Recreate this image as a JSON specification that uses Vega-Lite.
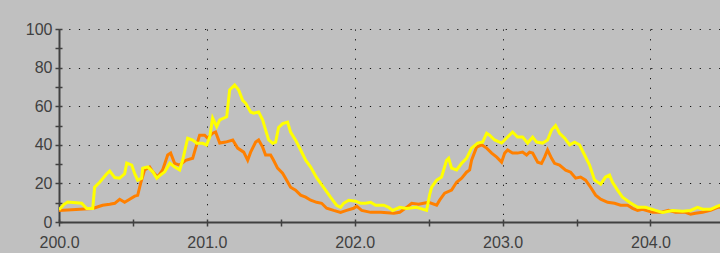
{
  "$schema": "https://vega.github.io/schema/vega-lite/v6.json",
  "autosize": "none",
  "width": 661,
  "height": 193,
  "padding": {"left": 59, "top": 29, "right": 0, "bottom": 31},
  "background": "#c0c0c0",
  "config": {
    "view": {"stroke": null},
    "axis": {
      "labelFont": "Liberation Sans",
      "labelFontSize": 16,
      "labelColor": "#404040",
      "domainColor": "#404040",
      "domainWidth": 2,
      "tickColor": "#404040",
      "tickWidth": 1.5,
      "gridColor": "#101010",
      "gridDash": [1.2, 8.5],
      "title": null
    }
  },
  "resolve": {"axis": {"x": "independent", "y": "independent"}},
  "datasets": {
    "yellow": [
      {"t":200.000,"v":6.4},{"t":200.032,"v":9},{"t":200.059,"v":10.4},{"t":200.153,"v":9.7},{"t":200.187,"v":7},{"t":200.228,"v":7},{"t":200.241,"v":18},{"t":200.275,"v":20.6},{"t":200.323,"v":25},{"t":200.343,"v":26.4},{"t":200.377,"v":23},{"t":200.410,"v":22.7},{"t":200.444,"v":25},{"t":200.458,"v":30.5},{"t":200.492,"v":29.5},{"t":200.512,"v":25},{"t":200.532,"v":21.7},{"t":200.559,"v":22.7},{"t":200.566,"v":27.9},{"t":200.600,"v":28.5},{"t":200.634,"v":26},{"t":200.661,"v":22.7},{"t":200.681,"v":24},{"t":200.715,"v":26},{"t":200.749,"v":30.5},{"t":200.782,"v":28.5},{"t":200.816,"v":27},{"t":200.836,"v":32},{"t":200.870,"v":43.4},{"t":200.904,"v":42.4},{"t":200.931,"v":40.8},{"t":200.971,"v":40.8},{"t":200.998,"v":39.9},{"t":201.019,"v":44},{"t":201.039,"v":53.8},{"t":201.066,"v":49.4},{"t":201.087,"v":52.9},{"t":201.134,"v":54.5},{"t":201.154,"v":68.4},{"t":201.188,"v":71},{"t":201.215,"v":68.4},{"t":201.242,"v":63},{"t":201.262,"v":61.6},{"t":201.296,"v":57},{"t":201.316,"v":56.4},{"t":201.350,"v":57},{"t":201.377,"v":53},{"t":201.397,"v":47.7},{"t":201.418,"v":42.5},{"t":201.445,"v":40.8},{"t":201.465,"v":41.4},{"t":201.485,"v":49},{"t":201.513,"v":51},{"t":201.546,"v":51.8},{"t":201.566,"v":46.6},{"t":201.600,"v":42.4},{"t":201.634,"v":37.3},{"t":201.668,"v":32},{"t":201.702,"v":28.5},{"t":201.742,"v":23},{"t":201.789,"v":18},{"t":201.836,"v":12.9},{"t":201.877,"v":8.7},{"t":201.904,"v":7.6},{"t":201.925,"v":9.7},{"t":201.959,"v":11.3},{"t":202.006,"v":10.8},{"t":202.040,"v":9.7},{"t":202.074,"v":9.7},{"t":202.108,"v":10.2},{"t":202.141,"v":8.7},{"t":202.196,"v":8.7},{"t":202.229,"v":7.6},{"t":202.256,"v":6},{"t":202.304,"v":7.6},{"t":202.351,"v":7},{"t":202.418,"v":7.6},{"t":202.486,"v":6},{"t":202.506,"v":14},{"t":202.520,"v":18},{"t":202.554,"v":21.7},{"t":202.587,"v":23.3},{"t":202.621,"v":32},{"t":202.635,"v":33},{"t":202.655,"v":27.9},{"t":202.689,"v":27},{"t":202.723,"v":30.4},{"t":202.756,"v":33},{"t":202.790,"v":38.3},{"t":202.831,"v":40.9},{"t":202.865,"v":41.4},{"t":202.892,"v":46},{"t":202.912,"v":45},{"t":202.946,"v":42.5},{"t":202.993,"v":40.9},{"t":203.027,"v":43.5},{"t":203.067,"v":46.6},{"t":203.101,"v":44},{"t":203.135,"v":44},{"t":203.169,"v":40.9},{"t":203.203,"v":44},{"t":203.230,"v":41.4},{"t":203.270,"v":40.9},{"t":203.304,"v":42.5},{"t":203.331,"v":47.7},{"t":203.358,"v":50},{"t":203.385,"v":46},{"t":203.419,"v":43.5},{"t":203.453,"v":40},{"t":203.487,"v":41.4},{"t":203.520,"v":40},{"t":203.554,"v":34.7},{"t":203.588,"v":29.5},{"t":203.622,"v":21.7},{"t":203.663,"v":19.6},{"t":203.696,"v":23.3},{"t":203.723,"v":24.3},{"t":203.743,"v":20.6},{"t":203.777,"v":16.5},{"t":203.811,"v":12.8},{"t":203.858,"v":10.2},{"t":203.913,"v":7.6},{"t":203.967,"v":7.6},{"t":204.034,"v":6},{"t":204.082,"v":5},{"t":204.149,"v":6},{"t":204.217,"v":5.6},{"t":204.271,"v":6},{"t":204.318,"v":7.6},{"t":204.352,"v":6.6},{"t":204.406,"v":6.6},{"t":204.454,"v":8.2},{"t":204.474,"v":8.7}
    ],
    "orange": [
      {"t":200.000,"v":6},{"t":200.228,"v":7},{"t":200.295,"v":8.7},{"t":200.343,"v":9.2},{"t":200.377,"v":9.7},{"t":200.410,"v":11.8},{"t":200.444,"v":10.2},{"t":200.478,"v":11.8},{"t":200.512,"v":13.4},{"t":200.532,"v":13.8},{"t":200.552,"v":20},{"t":200.579,"v":27},{"t":200.613,"v":28.5},{"t":200.634,"v":26},{"t":200.667,"v":23.3},{"t":200.701,"v":27},{"t":200.735,"v":34.7},{"t":200.755,"v":35.7},{"t":200.782,"v":30.4},{"t":200.816,"v":29.5},{"t":200.857,"v":32},{"t":200.904,"v":33},{"t":200.924,"v":38.3},{"t":200.951,"v":45},{"t":200.985,"v":45},{"t":201.005,"v":43.5},{"t":201.039,"v":46},{"t":201.059,"v":46.6},{"t":201.087,"v":40.9},{"t":201.127,"v":41.4},{"t":201.175,"v":42.5},{"t":201.208,"v":38.3},{"t":201.249,"v":36.2},{"t":201.276,"v":32},{"t":201.296,"v":36.2},{"t":201.330,"v":41.4},{"t":201.350,"v":42.5},{"t":201.377,"v":38.8},{"t":201.397,"v":34.7},{"t":201.431,"v":34.7},{"t":201.451,"v":32},{"t":201.478,"v":27.9},{"t":201.512,"v":25.3},{"t":201.532,"v":22.7},{"t":201.566,"v":18},{"t":201.600,"v":16.5},{"t":201.634,"v":13.9},{"t":201.668,"v":12.9},{"t":201.702,"v":11.3},{"t":201.742,"v":10.2},{"t":201.776,"v":9.7},{"t":201.810,"v":7.1},{"t":201.857,"v":6},{"t":201.904,"v":5},{"t":201.945,"v":6},{"t":201.992,"v":7.1},{"t":202.013,"v":8.2},{"t":202.047,"v":6},{"t":202.108,"v":5},{"t":202.176,"v":5},{"t":202.264,"v":4.5},{"t":202.304,"v":5},{"t":202.351,"v":7.6},{"t":202.385,"v":9.7},{"t":202.432,"v":9.2},{"t":202.466,"v":9.7},{"t":202.500,"v":10.2},{"t":202.554,"v":8.7},{"t":202.574,"v":11.3},{"t":202.608,"v":14.9},{"t":202.655,"v":16.5},{"t":202.689,"v":20.6},{"t":202.723,"v":22.7},{"t":202.756,"v":25.8},{"t":202.777,"v":27},{"t":202.790,"v":32},{"t":202.824,"v":38.8},{"t":202.858,"v":40},{"t":202.892,"v":38.3},{"t":202.926,"v":35.7},{"t":202.960,"v":33.6},{"t":202.993,"v":31},{"t":203.014,"v":35.7},{"t":203.034,"v":37.3},{"t":203.067,"v":35.7},{"t":203.101,"v":35.7},{"t":203.135,"v":36.2},{"t":203.162,"v":34.7},{"t":203.182,"v":36.2},{"t":203.203,"v":35.7},{"t":203.237,"v":31},{"t":203.263,"v":30.4},{"t":203.284,"v":33.6},{"t":203.304,"v":37.3},{"t":203.331,"v":33},{"t":203.351,"v":30.4},{"t":203.385,"v":29.5},{"t":203.426,"v":26.9},{"t":203.460,"v":25.8},{"t":203.494,"v":22.7},{"t":203.527,"v":23.3},{"t":203.561,"v":21.7},{"t":203.595,"v":18},{"t":203.629,"v":13.9},{"t":203.663,"v":11.8},{"t":203.710,"v":10.2},{"t":203.757,"v":9.7},{"t":203.798,"v":8.7},{"t":203.845,"v":8.7},{"t":203.879,"v":7.1},{"t":203.913,"v":6},{"t":203.946,"v":6.6},{"t":204.014,"v":5},{"t":204.068,"v":5},{"t":204.122,"v":6},{"t":204.169,"v":5},{"t":204.237,"v":5},{"t":204.271,"v":4},{"t":204.304,"v":4.5},{"t":204.352,"v":5},{"t":204.406,"v":6},{"t":204.454,"v":7.6},{"t":204.474,"v":7.6}
    ]
  },
  "layer": [
    {
      "data": {"name": "orange"},
      "mark": {"type": "line", "color": "#ff8000", "strokeWidth": 3, "clip": true},
      "encoding": {
        "x": {
          "field": "t", "type": "quantitative",
          "scale": {"domain": [200, 204.47], "nice": false, "zero": false},
          "axis": {
            "orient": "bottom",
            "values": [200, 200.5, 201, 201.5, 202, 202.5, 203, 203.5, 204],
            "labelExpr": "datum.value % 1 == 0 ? format(datum.value, '.1f') : ''",
            "gridOpacity": {"condition": {"test": "datum.value % 1 == 0 && datum.value > 200", "value": 1}, "value": 0},
            "tickSize": 4,
            "labelPadding": 8,
            "labelFlush": false
          }
        },
        "y": {
          "field": "v", "type": "quantitative",
          "scale": {"domain": [0, 100], "nice": false},
          "axis": {
            "orient": "left",
            "values": [0, 10, 20, 30, 40, 50, 60, 70, 80, 90, 100],
            "labelExpr": "datum.value % 20 == 0 ? datum.label : ''",
            "gridOpacity": {"condition": {"test": "datum.value % 20 == 0 && datum.value > 0", "value": 1}, "value": 0},
            "tickSize": 4,
            "labelPadding": 3
          }
        }
      }
    },
    {
      "data": {"name": "yellow"},
      "mark": {"type": "line", "color": "#ffff00", "strokeWidth": 3, "clip": true},
      "encoding": {
        "x": {
          "field": "t", "type": "quantitative",
          "axis": {
            "orient": "bottom",
            "values": [200, 200.5, 201, 201.5, 202, 202.5, 203, 203.5, 204],
            "labels": false, "grid": false, "domain": false,
            "tickSize": -3
          }
        },
        "y": {
          "field": "v", "type": "quantitative",
          "axis": {
            "orient": "left",
            "values": [0, 10, 20, 30, 40, 50, 60, 70, 80, 90, 100],
            "labels": false, "grid": false, "domain": false,
            "tickSize": -3
          }
        }
      }
    }
  ]
}
